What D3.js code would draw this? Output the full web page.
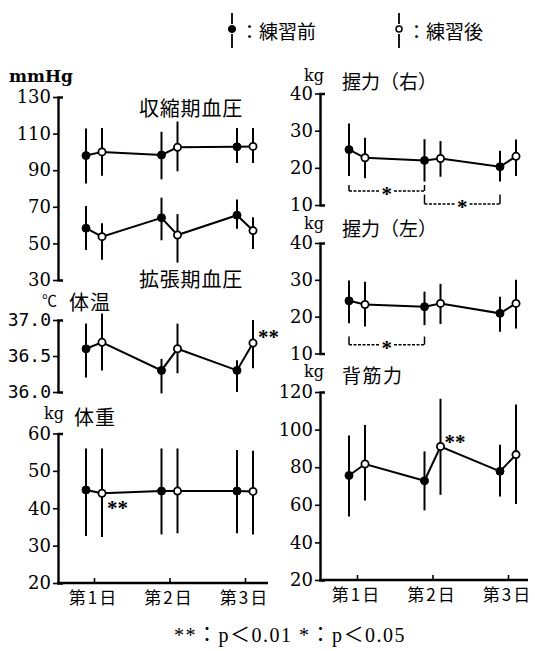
<!DOCTYPE html>
<html><head><meta charset="utf-8">
<script src="https://cdn.jsdelivr.net/npm/d3@7"></script>
<style>body{margin:0;background:#fff}</style>
</head><body><svg id="c" width="535" height="651"></svg>
<script>
// ---------- data ----------
const days = ["第1日", "第2日", "第3日"];

// 収縮期血圧 (mmHg)
const sysPre = [98, 98.3, 102.8], sysPreHi = [112.8, 111, 113], sysPreLo = [82.8, 85, 94];
const sysPost = [100, 102.5, 103], sysPostHi = [113, 116.6, 113], sysPostLo = [87, 89.4, 94];
// 拡張期血圧 (mmHg)
const diaPre = [58.3, 64, 65.4], diaPreHi = [70.4, 75, 74], diaPreLo = [46.4, 51.7, 58];
const diaPost = [53.7, 54.6, 57], diaPostHi = [61, 66, 64.3], diaPostLo = [41, 39.5, 47];
// 体温 (℃)
const tmpPre = [36.6, 36.3, 36.3], tmpPreHi = [36.95, 36.46, 36.44], tmpPreLo = [36.2, 35.98, 36.0];
const tmpPost = [36.69, 36.6, 36.68], tmpPostHi = [37.09, 36.95, 37.0], tmpPostLo = [36.3, 36.26, 36.33];
// 体重 (kg)
const wtPre = [44.9, 44.6, 44.6], wtPreHi = [56, 56, 55.6], wtPreLo = [32.6, 33, 33.3];
const wtPost = [44, 44.6, 44.5], wtPostHi = [56, 56, 55.4], wtPostLo = [32.3, 33.3, 33];
// 握力（右） (kg)
const grPre = [24.9, 22, 20.3], grPreHi = [31.9, 27.7, 24.6], grPreLo = [17.8, 16.3, 16.3];
const grPost = [22.7, 22.5, 23.1], grPostHi = [28.1, 27.2, 27.6], grPostLo = [17.2, 17.6, 17.8];
// 握力（左） (kg)
const glPre = [24.3, 22.7, 20.9], glPreHi = [29.8, 26.8, 25.4], glPreLo = [18.2, 17.7, 15.9];
const glPost = [23.3, 23.6, 23.6], glPostHi = [29.5, 28.9, 30], glPostLo = [17.3, 18, 16.8];
// 背筋力 (kg)
const bkPre = [75.6, 72.8, 77.8], bkPreHi = [96.8, 88.4, 92], bkPreLo = [53.8, 57, 64.4];
const bkPost = [81.7, 91, 86.7], bkPostHi = [102.5, 116.4, 113.3], bkPostLo = [62.3, 65.3, 60.4];

// tick values / labels
const bpTicks = [30, 50, 70, 90, 110, 130];
const tmpTicks = [36.0, 36.5, 37.0];
const tmpTickLabels = ["36.0", "36.5", "37.0"];
const wtTicks = [20, 30, 40, 50, 60];
const gripTicks = [10, 20, 30, 40];
const bkTicks = [20, 40, 60, 80, 100, 120];

// legend / footnote
const legendLabels = ["：練習前", "：練習後"];
const footnote = "**：p＜0.01 *：p＜0.05";

// ---------- drawing ----------
const svg = d3.select("#c");
svg.append("rect").attr("width", 535).attr("height", 651).attr("fill", "#fff");

const SERIF = "'DejaVu Serif', 'Liberation Serif', serif";
const CJK = "'Noto Sans CJK JP', sans-serif";
const OFF = 8;

const xL = d3.scalePoint().domain(days).range([94, 245]);
const xR = d3.scalePoint().domain(days).range([357, 508]);

function yAxis(y, x0, ticks, labels, font, fsize) {
  const ax = d3.axisLeft(y).tickValues(ticks).tickSize(5).tickSizeOuter(-5).tickPadding(2);
  if (labels) ax.tickFormat((d, i) => labels[i]);
  const g = svg.append("g").attr("transform", `translate(${x0},0)`).call(ax);
  g.select(".domain").attr("stroke", "#000").attr("stroke-width", 2.4).attr("fill", "none");
  g.selectAll(".tick line").attr("stroke", "#000").attr("stroke-width", 1.6);
  g.selectAll(".tick text").attr("font-family", font).attr("font-size", fsize).attr("fill", "#000");
  return g;
}

function xAxis(x, y0, xStart, xEnd) {
  svg.append("line").attr("x1", xStart).attr("x2", xEnd).attr("y1", y0).attr("y2", y0)
    .attr("stroke", "#000").attr("stroke-width", 2.4);
  const ax = d3.axisBottom(x).tickSize(-5).tickSizeOuter(0).tickPadding(9);
  const g = svg.append("g").attr("transform", `translate(0,${y0})`).call(ax);
  g.select(".domain").remove();
  g.selectAll(".tick line").attr("stroke", "#000").attr("stroke-width", 1.6);
  g.selectAll(".tick text").attr("font-family", CJK).attr("font-size", 17).attr("fill", "#000")
    .attr("letter-spacing", 2).attr("dx", -1);
}

function series(x, y, pre, preHi, preLo, post, postHi, postLo) {
  const pts = [];
  days.forEach((d, i) => {
    pts.push({ x: x(d) - OFF, v: pre[i], hi: preHi[i], lo: preLo[i], filled: true });
    pts.push({ x: x(d) + OFF, v: post[i], hi: postHi[i], lo: postLo[i], filled: false });
  });
  const g = svg.append("g");
  g.selectAll("line.err").data(pts).join("line")
    .attr("x1", d => d.x).attr("x2", d => d.x)
    .attr("y1", d => y(d.hi)).attr("y2", d => y(d.lo))
    .attr("stroke", "#000").attr("stroke-width", 2);
  g.append("path").datum(pts)
    .attr("d", d3.line().x(d => d.x).y(d => y(d.v)))
    .attr("fill", "none").attr("stroke", "#000").attr("stroke-width", 2);
  g.selectAll("circle").data(pts).join("circle")
    .attr("cx", d => d.x).attr("cy", d => y(d.v))
    .attr("r", d => d.filled ? 4 : 3.6)
    .attr("fill", d => d.filled ? "#000" : "#fff")
    .attr("stroke", "#000").attr("stroke-width", d => d.filled ? 1 : 1.8);
  return pts;
}

function text(x, y, s, font, size, opts = {}) {
  const t = svg.append("text").attr("x", x).attr("y", y).text(s)
    .attr("font-family", font).attr("font-size", size).attr("fill", "#000");
  if (opts.central) t.attr("dominant-baseline", "central");
  if (opts.ls) t.attr("letter-spacing", opts.ls);
  if (opts.weight) t.attr("font-weight", opts.weight);
  if (opts.anchor) t.attr("text-anchor", opts.anchor);
  return t;
}

function stars(x, yc, s) {
  text(x, yc + 10, s, "'Liberation Serif', serif", 21, { weight: "bold" });
}

function bracket(x, y, d1, d2, vLine, vTop) {
  const x1p = x(d1) - OFF, x2p = x(d2) - OFF;
  const yl = y(vLine), yt = y(vTop);
  svg.append("line").attr("x1", x1p).attr("x2", x2p).attr("y1", yl).attr("y2", yl)
    .attr("stroke", "#000").attr("stroke-width", 1.5).attr("stroke-dasharray", "3,1.5");
  [x1p, x2p].forEach(xx => svg.append("line").attr("x1", xx).attr("x2", xx)
    .attr("y1", yt).attr("y2", yl).attr("stroke", "#000").attr("stroke-width", 1.5));
  svg.append("rect").attr("x", (x1p + x2p) / 2 - 7).attr("y", yl - 3).attr("width", 14).attr("height", 6).attr("fill", "#fff");
  text((x1p + x2p) / 2, yl + 10, "*", "'Liberation Serif', serif", 21, { weight: "bold", anchor: "middle" });
}

// ---- 血圧 ----
const yBP = d3.scaleLinear().domain([30, 130]).range([280, 97]);
yAxis(yBP, 58, bpTicks, null, SERIF, 18);
series(xL, yBP, sysPre, sysPreHi, sysPreLo, sysPost, sysPostHi, sysPostLo);
series(xL, yBP, diaPre, diaPreHi, diaPreLo, diaPost, diaPostHi, diaPostLo);
text(9, 82, "mmHg", SERIF, 17, { weight: "bold" });
text(139, 107, "収縮期血圧", CJK, 20, { central: true, ls: 0.8 });
text(139, 278, "拡張期血圧", CJK, 20, { central: true, ls: 0.8 });

// ---- 体温 ----
const yT = d3.scaleLinear().domain([36.0, 37.0]).range([392, 320]);
yAxis(yT, 58, tmpTicks, tmpTickLabels, "'DejaVu Sans Mono', monospace", 18);
series(xL, yT, tmpPre, tmpPreHi, tmpPreLo, tmpPost, tmpPostHi, tmpPostLo);
text(42, 299, "℃", CJK, 15, { central: true });
text(69, 301, "体温", CJK, 20, { central: true, ls: 1 });
stars(xL(days[2]) + OFF + 5, 334, "**");

// ---- 体重 ----
const yW = d3.scaleLinear().domain([20, 60]).range([583, 433.5]);
yAxis(yW, 58, wtTicks, null, SERIF, 18);
series(xL, yW, wtPre, wtPreHi, wtPreLo, wtPost, wtPostHi, wtPostLo);
xAxis(xL, 583, 57, 268);
text(44, 419, "kg", SERIF, 16);
text(74, 416, "体重", CJK, 20, { central: true, ls: 1 });
stars(xL(days[0]) + OFF + 5, 505, "**");

// ---- 握力（右） ----
const yGR = d3.scaleLinear().domain([10, 40]).range([205, 93.5]);
yAxis(yGR, 320, gripTicks, null, SERIF, 18);
series(xR, yGR, grPre, grPreHi, grPreLo, grPost, grPostHi, grPostLo);
text(304, 81, "kg", SERIF, 16);
text(342, 80, "握力（右）", CJK, 19, { central: true });
bracket(xR, yGR, days[0], days[1], 13.8, 15.4);
bracket(xR, yGR, days[1], days[2], 10.3, 12.8);

// ---- 握力（左） ----
const yGL = d3.scaleLinear().domain([10, 40]).range([353.5, 243]);
yAxis(yGL, 320, gripTicks, null, SERIF, 18);
series(xR, yGL, glPre, glPreHi, glPreLo, glPost, glPostHi, glPostLo);
text(304, 229, "kg", SERIF, 16);
text(342, 227, "握力（左）", CJK, 19, { central: true });
bracket(xR, yGL, days[0], days[1], 12.4, 14.6);

// ---- 背筋力 ----
const yB = d3.scaleLinear().domain([20, 120]).range([580, 392]);
yAxis(yB, 320, bkTicks, null, SERIF, 18);
series(xR, yB, bkPre, bkPreHi, bkPreLo, bkPost, bkPostHi, bkPostLo);
xAxis(xR, 580, 319, 528);
text(304, 377, "kg", SERIF, 16);
text(342, 374, "背筋力", CJK, 19, { central: true, ls: 1.5 });
stars(xR(days[1]) + OFF + 4, 439, "**");

// ---- legend ----
[[232, true], [399, false]].forEach(([lx, filled], i) => {
  svg.append("line").attr("x1", lx).attr("x2", lx).attr("y1", 13).attr("y2", 24).attr("stroke", "#000").attr("stroke-width", 1.8);
  svg.append("line").attr("x1", lx).attr("x2", lx).attr("y1", 34).attr("y2", 48).attr("stroke", "#000").attr("stroke-width", 1.8);
  svg.append("circle").attr("cx", lx).attr("cy", 29).attr("r", filled ? 3.6 : 3)
    .attr("fill", filled ? "#000" : "#fff").attr("stroke", "#000").attr("stroke-width", filled ? 1 : 1.5);
  text(lx + 8, 30, legendLabels[i], CJK, 19, { central: true });
});

// ---- footnote ----
text(290, 642, footnote, "'Liberation Serif', 'Noto Sans CJK JP', serif", 20, { anchor: "middle", ls: 1.5 });
</script>
</body></html>
